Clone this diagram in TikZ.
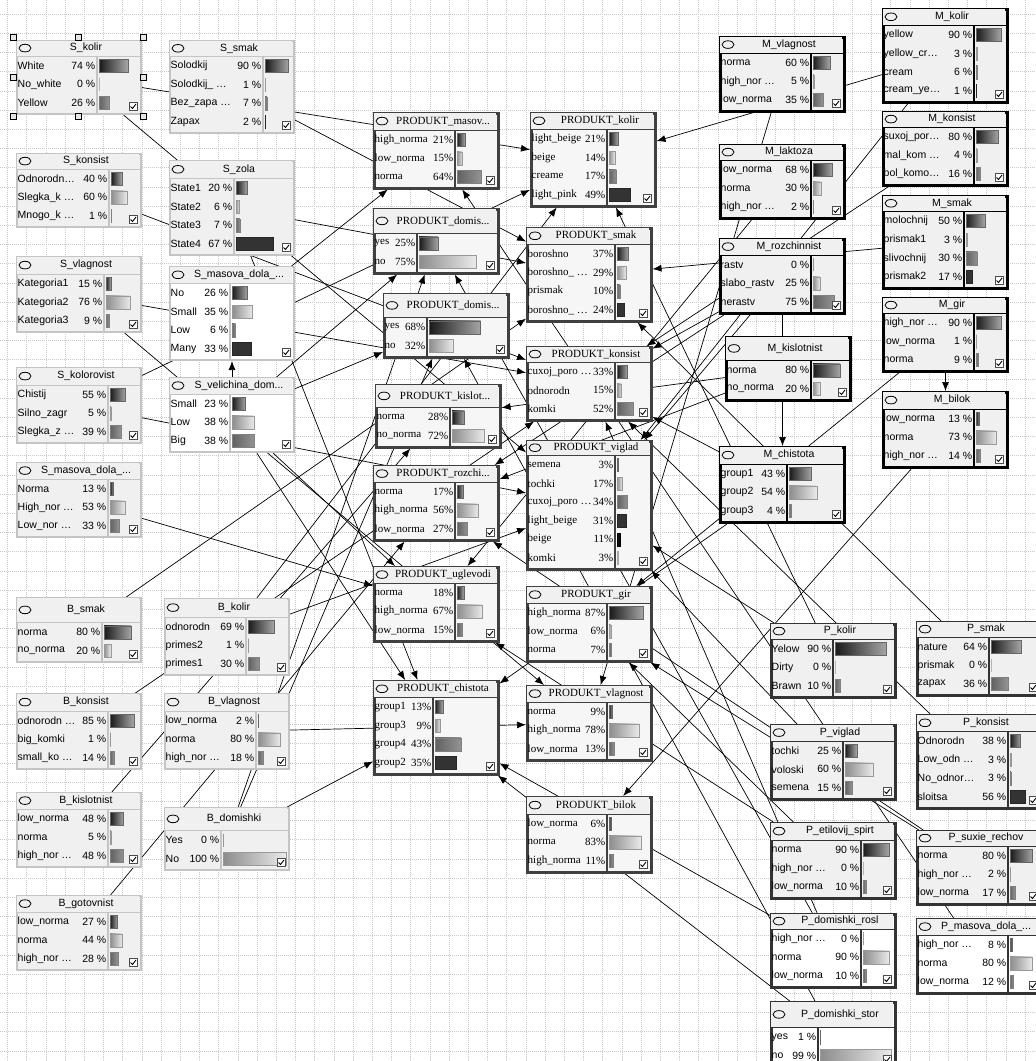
\documentclass[tikz,border=0pt]{standalone}
\usepackage{fontspec}
\setmainfont{Liberation Serif}
\setsansfont{Liberation Sans}
\usetikzlibrary{arrows.meta}
\pgfdeclarelayer{grid}
\pgfdeclarelayer{links}
\pgfsetlayers{grid,links,main}
\definecolor{panel}{HTML}{F0F0F0}
\definecolor{pbody}{HTML}{F6F6F6}
\definecolor{sframe}{HTML}{C4C4C4}
\definecolor{dframe}{HTML}{404040}

% #1 name, #2 frame, #3 text, #4 top left, #5 height, #6 split, #7 title, #8 sign, #9 rows
\newcommand{\bnbox}[9]{%
  \begin{scope}[shift={(#4)}]
    \node[#2, minimum height=#5pt, anchor=north west] (#1) at (0,0) {};
    \foreach \q [count=\k] in {#9} {\xdef\nrows{\k}}
    \pgfmathsetmacro\titleh{#5-18.6*\nrows-1}
    \fill[panel] (1,1) rectangle (123,\titleh);
    \draw[#2, line width=1.2pt, fill=none] (0,\titleh) -- (124,\titleh) (#6,\titleh) -- (#6,#5);
    \draw[icon] (9,{\titleh/2}) ellipse (6 and 3.8);
    \node[#3] at (70,{\titleh/2}) {#7};
    \foreach \lab/\pc [count=\i] in {#9} {
      \pgfmathsetmacro\ry{\titleh+9.5+18.6*(\i-1)}
      \node[#3, anchor=west] at (1.5,\ry) {\lab};
      \node[#3, anchor=east] at ({#6-1.5},\ry) {\pc#8};
      \draw[bar\i] ({#6+2},{\ry-6.5}) rectangle ++({(120-#6)*\pc/100},13);
    }
    \draw[chk] (113,{#5-11}) rectangle ++(8,8);
    \draw[tick] (114.5,{#5-6.5}) -- (116.5,{#5-4.5}) -- (120,{#5-9});
  \end{scope}}

\begin{document}
\begin{tikzpicture}[x=1pt, y=-1pt,
    sbox/.style={rectangle, draw=sframe, line width=2pt, fill=panel, minimum width=124pt, inner sep=0pt},
    pbox/.style={rectangle, draw=dframe, line width=2.5pt, fill=pbody, minimum width=124pt, inner sep=0pt},
    mbox/.style={rectangle, draw=black, line width=3pt, fill=panel, minimum width=124pt, inner sep=0pt},
    qbox/.style={rectangle, draw=black!80, line width=2.5pt, fill=panel, minimum width=124pt, inner sep=0pt},
    stxt/.style={font=\sffamily\fontsize{10.5}{12}\selectfont, inner sep=0pt},
    ptxt/.style={font=\rmfamily\fontsize{11}{12}\selectfont, inner sep=0pt},
    icon/.style={black, line width=0.8pt},
    chk/.style={draw=black!70, fill=white, line width=0.8pt},
    tick/.style={black, line width=0.9pt},
    bar1/.style={left color=black!90, right color=black!35, draw=black!60, line width=0.5pt},
    bar2/.style={left color=black!45, right color=black!8, draw=black!40, line width=0.5pt},
    bar3/.style={left color=black!62, right color=black!42, draw=black!50, line width=0.5pt},
    bar4/.style={fill=black!80, draw=black!85, line width=0.5pt},
    bar5/.style={fill=black!95, draw=black, line width=0.5pt},
    bar6/.style={fill=black!25, draw=black!35, line width=0.5pt},
    link/.style={-{Latex[length=9pt,width=7pt]}, line width=0.7pt, black},
    gridline/.style={black!22, line width=0.5pt, dash pattern=on 1pt off 1pt},
    handle/.style={draw=black, fill=black!10, line width=0.6pt}]
                \useasboundingbox (0,0) rectangle (1036,1061);
                \clip (0,0) rectangle (1036,1061);
                \begin{pgfonlayer}{grid}
                    \fill[white] (0,0) rectangle (1036,1061);
                    \foreach \k in {0,...,53} \draw[gridline] ({7.5+19.2*\k},0) -- ++(0,1061);
                    \foreach \k in {0,...,54} \draw[gridline] (0,{14+19.2*\k}) -- ++(1036,0);
                \end{pgfonlayer}

                \bnbox{S_kolir}{sbox}{stxt}{16,40}{73}{81}{S\_kolir}{ \%}{White/74, No\_white/0, Yellow/26}
                \bnbox{S_smak}{sbox}{stxt}{169,40}{92}{94}{S\_smak}{ \%}{Solodkij/90, Solodkij\_ \ldots/1, Bez\_zapa \ldots/7, Zapax/2}
                \bnbox{S_konsist}{sbox}{stxt}{16,153}{73}{93}{S\_konsist}{ \%}{Odnorodn\ldots/40, Slegka\_k \ldots/60, Mnogo\_k \ldots/1}
                \bnbox{S_zola}{sbox}{stxt}{169,160}{94}{65}{S\_zola}{ \%}{State1/20, State2/6, State3/7, State4/67}
                \bnbox{S_vlagnost}{sbox}{stxt}{16,256}{75}{88}{S\_vlagnost}{ \%}{Kategoria1/15, Kategoria2/76, Kategoria3/9}
                \bnbox{S_masova}{sbox, fill=white}{stxt}{169,266}{93}{61}{S\_masova\_dola\_...}{ \%}{No/26, Small/35, Low/6, Many/33}
                \bnbox{S_kolorovist}{sbox}{stxt}{16,367}{75}{92}{S\_kolorovist}{ \%}{Chistij/55, Silno\_zagr/5, Slegka\_z \ldots/39}
                \bnbox{S_velichina}{sbox, fill=white}{stxt}{169,377}{74}{61}{S\_velichina\_dom...}{ \%}{Small/23, Low/38, Big/38}
                \bnbox{S_masova_b}{sbox}{stxt}{16,462}{74}{92}{S\_masova\_dola\_...}{ \%}{Norma/13, High\_nor \ldots/53, Low\_nor \ldots/33}

                \bnbox{B_smak}{sbox}{stxt}{16,597}{64}{86}{B\_smak}{ \%}{norma/80, no\_norma/20}
                \bnbox{B_kolir}{sbox}{stxt}{164,598}{76}{82}{B\_kolir}{ \%}{odnorodn/69, primes2/1, primes1/30}
                \bnbox{B_konsist}{sbox}{stxt}{16,693}{75}{92}{B\_konsist}{ \%}{odnorodn \ldots/85, big\_komki/1, small\_ko \ldots/14}
                \bnbox{B_vlagnost}{sbox}{stxt}{164,693}{75}{92}{B\_vlagnost}{ \%}{low\_norma/2, norma/80, high\_nor \ldots/18}
                \bnbox{B_kislotnist}{sbox}{stxt}{16,792}{74}{92}{B\_kislotnist}{ \%}{low\_norma/48, norma/5, high\_nor \ldots/48}
                \bnbox{B_domishki}{sbox}{stxt}{164,807}{62}{57}{B\_domishki}{ \%}{Yes/0, No/100}
                \bnbox{B_gotovnist}{sbox}{stxt}{16,895}{74}{92}{B\_gotovnist}{ \%}{low\_norma/27, norma/44, high\_nor \ldots/28}

                \bnbox{PR_masov}{pbox}{ptxt}{373,112}{75}{82}{PRODUKT\_masov...}{\%}{high\_norma/21, low\_norma/15, norma/64}
                \bnbox{PR_kolir}{pbox}{ptxt}{530,112}{93}{77}{PRODUKT\_kolir}{\%}{light\_beige/21, beige/14, creame/17, light\_pink/49}
                \bnbox{PR_domis_a}{pbox}{ptxt}{373,208}{64}{44}{PRODUKT\_domis...}{\%}{yes/25, no/75}
                \bnbox{PR_smak}{pbox}{ptxt}{526,227}{93}{89}{PRODUKT\_smak}{\%}{boroshno/37, boroshno\_ \ldots/29, prismak/10, boroshno\_ \ldots/24}
                \bnbox{PR_domis_b}{pbox}{ptxt}{383,293}{63}{44}{PRODUKT\_domis...}{\%}{yes/68, no/32}
                \bnbox{PR_konsist}{pbox}{ptxt}{526,346}{73}{89}{PRODUKT\_konsist}{\%}{cuxoj\_poro \ldots/33, odnorodn/15, komki/52}
                \bnbox{PR_kislot}{pbox}{ptxt}{375,384}{62}{75}{PRODUKT\_kislot...}{\%}{norma/28, no\_norma/72}
                \bnbox{PR_viglad}{pbox}{ptxt}{526,440}{128}{89}{PRODUKT\_viglad}{\%}{semena/3, tochki/17, cuxoj\_poro \ldots/34, light\_beige/31, beige/11, komki/3}
                \bnbox{PR_rozchi}{pbox}{ptxt}{373,465}{74}{82}{PRODUKT\_rozchi...}{\%}{norma/17, high\_norma/56, low\_norma/27}
                \bnbox{PR_uglevodi}{pbox}{ptxt}{373,566}{74}{82}{PRODUKT\_uglevodi}{\%}{norma/18, high\_norma/67, low\_norma/15}
                \bnbox{PR_gir}{pbox}{ptxt}{526,586}{74}{81}{PRODUKT\_gir}{\%}{high\_norma/87, low\_norma/6, norma/7}
                \bnbox{PR_chistota}{pbox}{ptxt}{373,680}{93}{60}{PRODUKT\_chistota}{\%}{group1/13, group3/9, group4/43, group2/35}
                \bnbox{PR_vlagnost}{pbox}{ptxt}{526,685}{74}{81}{PRODUKT\_vlagnost}{\%}{norma/9, high\_norma/78, low\_norma/13}
                \bnbox{PR_bilok}{pbox}{ptxt}{526,796}{75}{81}{PRODUKT\_bilok}{\%}{low\_norma/6, norma/83, high\_norma/11}

                \bnbox{M_kolir}{mbox}{stxt}{882,8}{93}{92}{M\_kolir}{ \%}{yellow/90, yellow\_cr\ldots/3, cream/6, cream\_ye\ldots/1}
                \bnbox{M_vlagnost}{mbox}{stxt}{719,36}{74}{92}{M\_vlagnost}{ \%}{norma/60, high\_nor \ldots/5, low\_norma/35}
                \bnbox{M_konsist}{mbox}{stxt}{882,111}{73}{92}{M\_konsist}{ \%}{suxoj\_por\ldots/80, mal\_kom \ldots/4, bol\_komo\ldots/16}
                \bnbox{M_laktoza}{mbox}{stxt}{719,144}{73}{92}{M\_laktoza}{ \%}{low\_norma/68, norma/30, high\_nor \ldots/2}
                \bnbox{M_smak}{mbox}{stxt}{882,195}{92}{82}{M\_smak}{ \%}{molochnij/50, prismak1/3, slivochnij/30, prismak2/17}
                \bnbox{M_rozchinnist}{mbox}{stxt}{719,238}{74}{92}{M\_rozchinnist}{ \%}{rastv/0, slabo\_rastv/25, nerastv/75}
                \bnbox{M_gir}{mbox}{stxt}{882,297}{73}{92}{M\_gir}{ \%}{high\_nor \ldots/90, low\_norma/1, norma/9}
                \bnbox{M_kislotnist}{mbox}{stxt}{725,336}{63}{86}{M\_kislotnist}{ \%}{norma/80, no\_norma/20}
                \bnbox{M_bilok}{mbox}{stxt}{882,391}{75}{92}{M\_bilok}{ \%}{low\_norma/13, norma/73, high\_nor \ldots/14}
                \bnbox{M_chistota}{mbox}{stxt}{719,446}{75}{68}{M\_chistota}{ \%}{group1/43, group2/54, group3/4}

                \bnbox{P_kolir}{qbox}{stxt}{770,623}{73}{63}{P\_kolir}{ \%}{Yelow/90, Dirty/0, Brawn/10}
                \bnbox{P_smak}{qbox}{stxt}{916,621}{73}{73}{P\_smak}{ \%}{nature/64, prismak/0, zapax/36}
                \bnbox{P_viglad}{qbox}{stxt}{770,724}{74}{73}{P\_viglad}{ \%}{tochki/25, voloski/60, semena/15}
                \bnbox{P_konsist}{qbox}{stxt}{916,714}{93}{92}{P\_konsist}{ \%}{Odnorodn/38, Low\_odn \ldots/3, No\_odnor\ldots/3, sloitsa/56}
                \bnbox{P_etilovij}{qbox}{stxt}{770,822}{75}{91}{P\_etilovij\_spirt}{ \%}{norma/90, high\_nor \ldots/0, low\_norma/10}
                \bnbox{P_suxie}{qbox}{stxt}{916,830}{73}{92}{P\_suxie\_rechov}{ \%}{norma/80, high\_nor \ldots/2, low\_norma/17}
                \bnbox{P_domishki_rosl}{qbox, fill=white}{stxt}{770,913}{73}{91}{P\_domishki\_rosl}{ \%}{high\_nor \ldots/0, norma/90, low\_norma/10}
                \bnbox{P_masova}{qbox, fill=white}{stxt}{916,918}{74}{92}{P\_masova\_dola\_...}{ \%}{high\_nor \ldots/8, norma/80, low\_norma/12}
                \bnbox{P_domishki_stor}{qbox, fill=white}{stxt}{770,1001}{65}{48}{P\_domishki\_stor}{ \%}{yes/1, no/99}

                \foreach \hx/\hy in {13/37, 78/37, 143/37, 13/77, 143/77, 13/116, 78/116, 143/116}
                    \draw[handle] ({\hx-3},{\hy-3}) rectangle ++(6,6);

                \begin{pgfonlayer}{links}
                    \draw[link] (S_kolir) -- (PR_kolir);
                    \draw[link] (S_kolir) -- (PR_viglad);
                    \draw[link] (S_smak) -- (PR_smak);
                    \draw[link] (S_konsist) -- (PR_konsist);
                    \draw[link] (S_zola) -- (PR_smak);
                    \draw[link] (S_zola) -- (PR_chistota);
                    \draw[link] (S_vlagnost) -- (PR_vlagnost);
                    \draw[link] (S_vlagnost) -- (PR_konsist);
                    \draw[link] (S_masova) -- (PR_masov);
                    \draw[link] (S_kolorovist) -- (PR_kolir);
                    \draw[link] (S_kolorovist) -- (PR_viglad);
                    \draw[link] (S_velichina) -- (S_masova);
                    \draw[link] (S_velichina) -- (PR_domis_a);
                    \draw[link] (S_velichina) -- (PR_domis_b);
                    \draw[link] (S_velichina) -- (PR_chistota);
                    \draw[link] (S_velichina) -- (PR_uglevodi);
                    \draw[link] (S_masova_b) -- (PR_uglevodi);
                    \draw[link] (B_smak) -- (PR_smak);
                    \draw[link] (B_kolir) -- (PR_kolir);
                    \draw[link] (B_kolir) -- (PR_viglad);
                    \draw[link] (B_konsist) -- (PR_konsist);
                    \draw[link] (B_vlagnost) -- (PR_vlagnost);
                    \draw[link] (B_kislotnist) -- (PR_kislot);
                    \draw[link] (B_domishki) -- (PR_domis_a);
                    \draw[link] (B_domishki) -- (PR_domis_b);
                    \draw[link] (B_domishki) -- (PR_chistota);
                    \draw[link] (B_gotovnist) -- (PR_rozchi);
                    \draw[link] (M_kolir) -- (PR_kolir);
                    \draw[link] (M_kolir) -- (PR_viglad);
                    \draw[link] (M_vlagnost) -- (PR_vlagnost);
                    \draw[link] (M_konsist) -- (PR_konsist);
                    \draw[link] (M_laktoza) -- (PR_uglevodi);
                    \draw[link] (M_smak) -- (PR_smak);
                    \draw[link] (M_rozchinnist) -- (PR_rozchi);
                    \draw[link] (M_rozchinnist) -- (PR_konsist);
                    \draw[link] (M_rozchinnist) -- (PR_viglad);
                    \draw[link] (M_rozchinnist) -- (M_chistota);
                    \draw[link] (M_gir) -- (PR_gir);
                    \draw[link] (M_gir) -- (M_bilok);
                    \draw[link] (M_kislotnist) -- (PR_kislot);
                    \draw[link] (M_kislotnist) -- (PR_rozchi);
                    \draw[link] (M_bilok) -- (PR_bilok);
                    \draw[link] (M_chistota) -- (PR_chistota);
                    \draw[link] (M_chistota) -- (PR_konsist);
                    \draw[link] (P_kolir) -- (PR_kolir);
                    \draw[link] (P_kolir) -- (PR_viglad);
                    \draw[link] (P_smak) -- (PR_smak);
                    \draw[link] (P_viglad) -- (PR_viglad);
                    \draw[link] (P_konsist) -- (PR_konsist);
                    \draw[link] (P_etilovij) -- (PR_gir);
                    \draw[link] (P_etilovij) -- (PR_uglevodi);
                    \draw[link] (P_suxie) -- (PR_gir);
                    \draw[link] (P_suxie) -- (PR_rozchi);
                    \draw[link] (P_domishki_rosl) -- (PR_domis_a);
                    \draw[link] (P_domishki_rosl) -- (PR_konsist);
                    \draw[link] (P_domishki_rosl) -- (PR_chistota);
                    \draw[link] (P_domishki_stor) -- (PR_domis_b);
                    \draw[link] (P_domishki_stor) -- (PR_chistota);
                    \draw[link] (P_masova) -- (PR_masov);
                \end{pgfonlayer}
            \end{tikzpicture}
\end{document}
